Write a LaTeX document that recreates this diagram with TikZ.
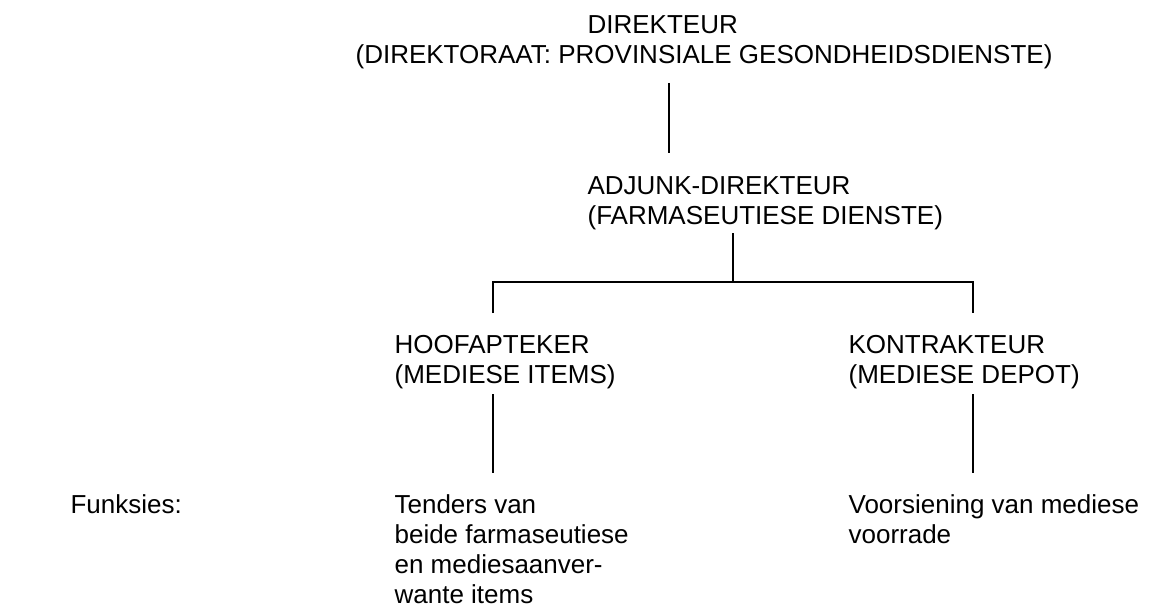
\documentclass[tikz,border=0pt]{standalone}
\usepackage{fontspec}
\setmainfont{Liberation Sans}
\begin{document}
\begin{tikzpicture}[x=0.5pt,y=-0.5pt,
  txt/.style={inner sep=0pt, align=left, anchor=base west, font=\fontsize{13}{15}\selectfont},
  line width=0.6pt]
\useasboundingbox (0,0) rectangle (1173,610);
% anchor base west = baseline of the last line
\node[txt] (dir) at (587,34) {DIREKTEUR};
\node[txt] (dirsub) at (355,64) {(DIREKTORAAT: PROVINSIALE GESONDHEIDSDIENSTE)};
\node[txt] (adj) at (587,224) {ADJUNK-DIREKTEUR\\(FARMASEUTIESE DIENSTE)};
\node[txt] (hoof) at (394,383) {HOOFAPTEKER\\(MEDIESE ITEMS)};
\node[txt] (kon) at (848,383) {KONTRAKTEUR\\(MEDIESE DEPOT)};
\node[txt] (fun) at (70,513) {Funksies:};
\node[txt] (ten) at (394,603) {Tenders van\\beide farmaseutiese\\en mediesaanver-\\wante items};
\node[txt] (voo) at (848,543) {Voorsiening van mediese\\voorrade};
% lyne
\coordinate (d1) at (669,83);
\coordinate (d2) at (669,153);
\coordinate (a1) at (733,233);
\coordinate (a2) at (733,282);
\coordinate (h1) at (493,313);
\coordinate (k1) at (973,313);
\coordinate (h2) at (493,394);
\coordinate (h3) at (493,473);
\coordinate (k2) at (973,394);
\coordinate (k3) at (973,473);
\draw (d1) -- (d2);
\draw (a1) -- (a2);
\draw (h1) |- (a2) -| (k1);
\draw (h2) -- (h3);
\draw (k2) -- (k3);
\end{tikzpicture}
\end{document}
